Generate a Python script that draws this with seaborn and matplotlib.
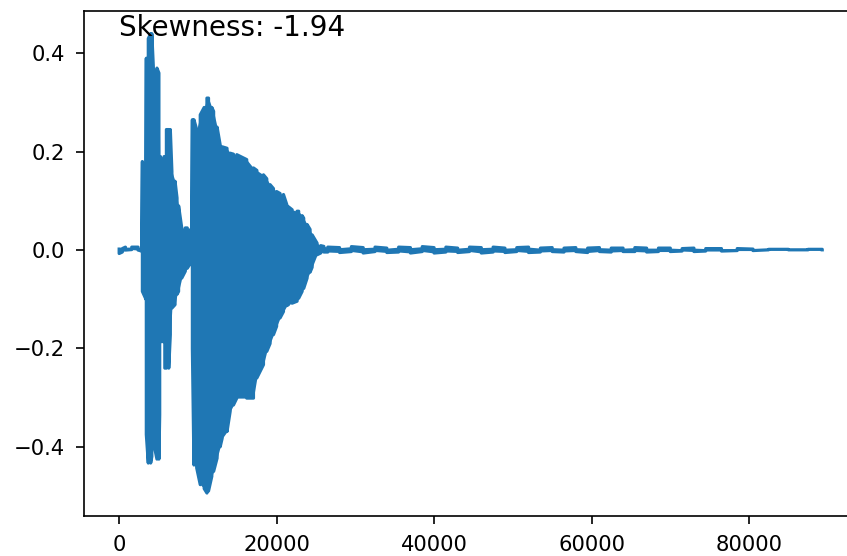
import numpy as np
import pandas as pd
import matplotlib
matplotlib.use("Agg")
import matplotlib.pyplot as plt
import seaborn as sns

# envelope of the waveform: sample index, max and min per block
sample_pos = [0, 400, 800, 1600, 2400, 2850,
              2950, 3400, 3450, 3700, 4000, 4150, 4350, 4800, 5050, 5150,
              5250, 5700, 5800, 6000, 6300, 6500, 6700, 7100, 7350, 7550,
              7950, 8400, 8650, 9200, 9300, 9500, 9850, 10300, 10800, 11150,
              11350, 11770, 12000, 12440, 12830, 13080, 13700, 14100, 14520, 14940,
              16200, 17060, 17490, 18330, 18750, 19170, 19600, 20000, 20440, 20870,
              21300, 21500, 21970, 22600, 22800, 23240, 23440, 23870, 24250, 24510,
              25140, 25600, 26000,
              26500, 28000, 29500, 31000, 32500, 34000, 35500, 37000, 38500, 40000,
              41500, 43000, 44500, 46000, 47500, 49000, 50500, 52000, 53500, 55000,
              56500, 58000, 59500, 61000, 62500, 64000, 65500, 67000, 68500, 70000,
              71500, 73000, 74500, 76500, 78500, 80500, 82500, 85000, 87500, 89300]
upper = [0.002, 0.003, 0.006, 0.006, 0.006, 0.005,
         0.18, 0.18, 0.39, 0.43, 0.44, 0.44, 0.37, 0.37, 0.36, 0.19,
         0.19, 0.19, 0.19, 0.245, 0.245, 0.245, 0.16, 0.14, 0.106, 0.09,
         0.045, 0.045, 0.045, 0.045, 0.265, 0.265, 0.245, 0.275, 0.29, 0.309,
         0.309, 0.29, 0.282, 0.25, 0.214, 0.21, 0.207, 0.197, 0.195, 0.194,
         0.184, 0.167, 0.162, 0.153, 0.145, 0.133, 0.125, 0.119, 0.115, 0.113,
         0.092, 0.088, 0.082, 0.079, 0.079, 0.07, 0.065, 0.052, 0.042, 0.031,
         0.014, 0.009, 0.0075,
         0.006, 0.005, 0.007, 0.005, 0.006, 0.004, 0.006, 0.005, 0.007, 0.005,
         0.006, 0.004, 0.006, 0.005, 0.006, 0.004, 0.005, 0.006, 0.004, 0.005,
         0.004, 0.005, 0.004, 0.005, 0.004, 0.004, 0.005, 0.004, 0.004, 0.004,
         0.003, 0.004, 0.003, 0.003, 0.003, 0.002, 0.0015, 0.0015, 0.0015, 0.0015]
lower = [-0.007, -0.004, 0.000, 0.001, 0.000, -0.002,
         -0.084, -0.10, -0.375, -0.433, -0.433, -0.42, -0.39, -0.425, -0.425, -0.335,
         -0.186, -0.186, -0.24, -0.24, -0.24, -0.172, -0.118, -0.111, -0.09, -0.084,
         -0.057, -0.043, -0.037, -0.023, -0.2, -0.437, -0.443, -0.477, -0.485, -0.494,
         -0.49, -0.46, -0.45, -0.423, -0.40, -0.383, -0.369, -0.328, -0.315, -0.301,
         -0.301, -0.301, -0.26, -0.233, -0.206, -0.19, -0.172, -0.155, -0.138, -0.125,
         -0.113, -0.111, -0.108, -0.104, -0.098, -0.084, -0.078, -0.057, -0.045, -0.035,
         -0.0095, -0.006, -0.004,
         -0.004, -0.005, -0.003, -0.006, -0.003, -0.005, -0.004, -0.006, -0.003, -0.006,
         -0.004, -0.005, -0.003, -0.006, -0.004, -0.005, -0.003, -0.005, -0.004, -0.003,
         -0.004, -0.003, -0.005, -0.003, -0.004, -0.003, -0.003, -0.004, -0.003, -0.003,
         -0.002, -0.003, -0.002, -0.002, -0.001, -0.001, 0.0005, 0.0005, 0.0005, 0.0005]
skewness = -1.94
label_y = 0.436

color = "#1f77b4"

# walk max/min in alternating order at each block so the trace stays a band
pairs = np.column_stack([upper, lower])
pairs[1::2] = pairs[1::2, ::-1]
wave = pd.DataFrame({"sample": np.repeat(sample_pos, 2), "amp": pairs.ravel()})

fig = plt.figure(figsize=(8.47, 5.56), dpi=100)
ax = fig.add_axes([84 / 847, 40 / 556, (857.4 - 84) / 847, (516 - 10.7) / 556])

ax.fill_between(sample_pos, lower, upper, color=color, lw=0)
sns.lineplot(data=wave, x="sample", y="amp", sort=False, estimator=None,
             color=color, lw=2.3, ax=ax)

ax.text(0, label_y, f"Skewness: {skewness}", fontsize=20)

ax.set_xlabel("")
ax.set_ylabel("")
ax.tick_params(labelsize=15.2, length=5.8, width=1.2, pad=8)
for s in ax.spines.values():
    s.set_linewidth(1.2)

fig.savefig("out.png", dpi=100)
